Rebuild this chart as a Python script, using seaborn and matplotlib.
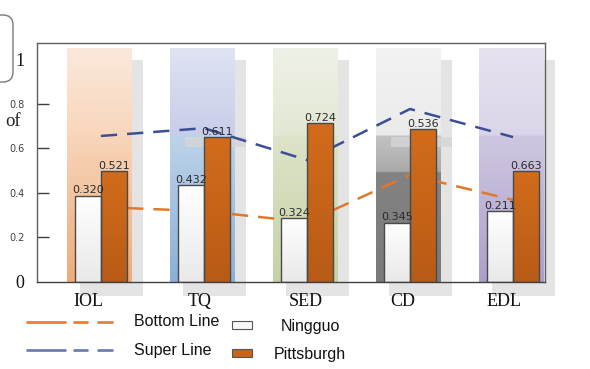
import numpy as np
import pandas as pd
import matplotlib
matplotlib.use("Agg")
import matplotlib.pyplot as plt
import seaborn as sns
from matplotlib.patches import Rectangle, FancyBboxPatch
from matplotlib.lines import Line2D
from matplotlib.colors import LinearSegmentedColormap
from matplotlib.transforms import IdentityTransform

# ---------------- data ----------------
categories = ["IOL", "TQ", "SED", "CD", "EDL"]
ningguo = [0.386, 0.435, 0.287, 0.266, 0.318]
pittsburgh = [0.498, 0.650, 0.713, 0.686, 0.498]
ningguo_labels = ["0.320", "0.432", "0.324", "0.345", "0.211"]
pittsburgh_labels = ["0.521", "0.611", "0.724", "0.536", "0.663"]
super_line = [0.655, 0.690, 0.547, 0.776, 0.650]
bottom_line = [0.336, 0.318, 0.269, 0.480, 0.368]
ytick_values = [0, 0.2, 0.4, 0.6, 0.8, 1]
ytick_labels = ["0", "0.2", "0.4", "0.6", "0.8", "1"]

# ---------------- style ----------------
W, H = 590, 369
sns.set_theme(style="white")
plt.rcParams["font.family"] = ["DejaVu Sans"]

fig = plt.figure(figsize=(W / 100, H / 100), dpi=100)
fig.patch.set_facecolor("white")
ax = fig.add_axes([37 / W, 1 - 282 / H, (545 - 37) / W, (282 - 43) / H])
ax.set_facecolor("white")

df = pd.DataFrame({
    "category": categories * 2,
    "value": ningguo + pittsburgh,
    "series": ["Ningguo"] * len(categories) + ["Pittsburgh"] * len(categories),
})

sns.barplot(data=df, x="category", y="value", hue="series",
            palette={"Ningguo": "#f7f7f7", "Pittsburgh": "#c8641a"},
            width=0.5, edgecolor="#4a4a4a", linewidth=1.0,
            ax=ax, legend=False, errorbar=None)

XLIM = (-0.62, 4.31)
YTOP = 1.072

# background bands with gradients
band_stops = [
    [(0, "#fce9dc"), (0.37, "#f8d6bb"), (1, "#efab78")],
    [(0, "#dfe3f2"), (0.372, "#c8cdea"), (0.373, "#bdd3ea"), (1, "#8cb0d6")],
    [(0, "#eef1e6"), (0.372, "#e3e8d4"), (0.373, "#dde4ca"), (1, "#c5d2a4")],
    [(0, "#f3f3f3"), (0.372, "#ebebeb"), (0.373, "#c3c3c3"), (0.53, "#a9a9a9"),
     (0.531, "#838383"), (1, "#7a7a7a")],
    [(0, "#e7e2f0"), (0.372, "#dcd5ea"), (0.373, "#cfc7e1"), (1, "#ad9fcb")],
]
grad = np.linspace(0, 1, 400).reshape(-1, 1)
band_top = (282 - 48) / 223
for i, stops in enumerate(band_stops):
    # shadow
    ax.add_patch(Rectangle((i - 0.2, -0.063), 0.61, 1.058, facecolor="#e4e4e4",
                           edgecolor="none", zorder=0.4, clip_on=False))
    cmap = LinearSegmentedColormap.from_list(f"band{i}", stops)
    ax.imshow(grad, cmap=cmap, extent=[i - 0.33, i + 0.30, 0, band_top],
              aspect="auto", origin="upper", zorder=0.6, interpolation="bilinear")

# small gray shadow artefacts in TQ and CD
for i in (1, 3):
    ax.add_patch(Rectangle((i - 0.18, 0.606), 0.59, 0.045, facecolor="#d6d6d6",
                           edgecolor="none", zorder=0.7, alpha=0.8))

# lines (behind bars)
ax.plot(np.arange(len(categories)), super_line, color="#3b4f96", lw=1.8,
        dashes=(6.5, 4), zorder=1.5)
ax.plot(np.arange(len(categories)), bottom_line, color="#e0782a", lw=1.8,
        dashes=(6.5, 4), zorder=1.5)

# bars with gradient fill
n = len(categories)
for k, p in enumerate(list(ax.containers[0]) + list(ax.containers[1])):
    x0, w, h = p.get_x(), p.get_width(), p.get_height()
    if k < n:
        cm = LinearSegmentedColormap.from_list("wb", ["#ffffff", "#e9e9e9"])
    else:
        cm = LinearSegmentedColormap.from_list("ob", ["#d26c1b", "#b85b16"])
    im = ax.imshow(grad, cmap=cm, extent=[x0, x0 + w, 0, h], aspect="auto",
                   origin="upper", zorder=2.0)
    im.set_clip_path(p)
    p.set_facecolor("none")
    p.set_zorder(2.1)

# value labels
for i in range(n):
    bn = ax.containers[0][i]
    bp = ax.containers[1][i]
    ax.text(bn.get_x() + bn.get_width() / 2, bn.get_height() + 0.002, ningguo_labels[i],
            ha="center", va="bottom", fontsize=8, color="#2a2a2a", zorder=4)
    ax.text(bp.get_x() + bp.get_width() / 2, bp.get_height() + 0.002, pittsburgh_labels[i],
            ha="center", va="bottom", fontsize=8, color="#2a2a2a", zorder=4)

ax.set_xlim(*XLIM)
ax.set_ylim(0, YTOP)

# axes styling
for s in ax.spines.values():
    s.set_visible(True)
    s.set_color("#606060")
    s.set_linewidth(1.0)
ax.spines["bottom"].set_color("#404040")

ax.set_xlabel("")
ax.set_ylabel("")
label_dx = [-0.12, -0.045, -0.015, -0.07, -0.09]
ax.set_xticks(np.arange(n) + np.array(label_dx))
ax.set_xticklabels(categories, family="Liberation Serif", fontsize=13, color="#111111")
ax.tick_params(axis="x", length=0, pad=8)

ax.set_yticks(ytick_values)
ax.set_yticklabels(ytick_labels)
ax.tick_params(axis="y", direction="in", length=8.5, width=1, color="#404040", pad=9, left=True)
for t, lab in zip(ax.yaxis.get_major_ticks(), ytick_labels):
    if lab in ("0", "1"):
        t.tick1line.set_visible(False)
        t.label1.set_fontfamily("Liberation Serif")
        t.label1.set_fontsize(13)
        t.label1.set_color("#111111")
    else:
        t.label1.set_fontsize(7)
        t.label1.set_color("#404040")

# cropped fragments at left edge
fig.add_artist(FancyBboxPatch((-30, H - 82), 43, 67, boxstyle="round,pad=0,rounding_size=10",
                              transform=IdentityTransform(), facecolor="white",
                              edgecolor="#7a7a7a", linewidth=1.0))
fig.text(5 / W, 1 - 122 / H, "of", family="Liberation Serif", fontsize=13.5,
         ha="left", va="center", color="#222222")

# custom legend (figure pixel coordinates)
def fx(px):
    return px / W

def fy(py):
    return 1 - py / H

leg_rows = [
    ("Bottom Line", "#ed7d31", 322, "Ningguo", "#f7f7f7", 325),
    ("Super Line", "#6e7db6", 350, "Pittsburgh", "#c8641a", 353),
]
for line_lab, lcol, ly, bar_lab, bcol, by in leg_rows:
    fig.add_artist(Line2D([fx(27), fx(65)], [fy(ly), fy(ly)], color=lcol, lw=2))
    fig.add_artist(Line2D([fx(74), fx(87)], [fy(ly), fy(ly)], color=lcol, lw=2))
    fig.add_artist(Line2D([fx(98), fx(112)], [fy(ly), fy(ly)], color=lcol, lw=2))
    fig.text(fx(134), fy(ly), line_lab, family="Liberation Sans", fontsize=11.5,
             ha="left", va="center", color="#111111")
    fig.add_artist(Rectangle((fx(232), fy(by + 4)), fx(20), 8 / H, facecolor=bcol,
                             edgecolor="#555555", linewidth=0.8, transform=fig.transFigure))
    fig.text(fx(281) if bar_lab == "Ningguo" else fx(274), fy(by + 1), bar_lab,
             family="Liberation Sans", fontsize=11.5, ha="left", va="center", color="#111111")

fig.savefig("out.png", dpi=100)
